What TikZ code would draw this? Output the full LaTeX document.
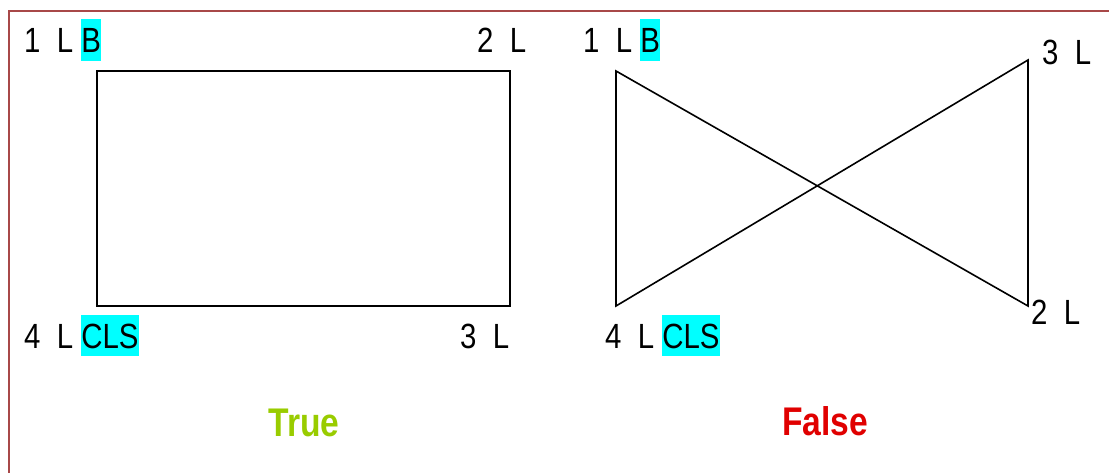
\documentclass[tikz,border=0pt]{standalone}
\usepackage{fontspec}
\setmainfont[FakeStretch=0.84]{Liberation Sans}
\definecolor{hl}{RGB}{0,255,255}
\definecolor{frame}{RGB}{168,72,72}
\definecolor{truegreen}{RGB}{153,204,0}
\definecolor{falsered}{RGB}{224,0,0}
% highlighted word with a tall cyan background
\newcommand\hlword[1]{{\setlength{\fboxsep}{0pt}\colorbox{hl}{\rule[-8.5pt]{0pt}{42pt}#1}}}
\tikzset{
  corner/.style={font=\fontsize{35}{40}\selectfont, anchor=base west, inner sep=0pt},
  verdict/.style={font=\fontsize{40}{44}\selectfont\bfseries, anchor=base, inner sep=0pt},
  shape line/.style={draw=black, line width=1.6pt, line join=miter},
}
\begin{document}
\begin{tikzpicture}[x=1pt,y=-1pt]
\useasboundingbox (0,0) rectangle (1109,473);
% outer frame (top and left edges)
\draw[frame, line width=2pt] (9,480) -- (9,11) -- (1115,11);

% left figure: rectangle
\coordinate (a1) at (97,71);
\coordinate (a2) at (510,71);
\coordinate (a3) at (510,306);
\coordinate (a4) at (97,306);
\draw[shape line] (a1) -- (a2) -- (a3) -- (a4) -- cycle;

\node[corner] (la1) at (24,53) {1~~L \hlword{B}};
\node[corner] (la2) at (477,53) {2~~L};
\node[corner] (la3) at (460,348) {3~~L};
\node[corner] (la4) at (24,348) {4~~L \hlword{CLS}};

% right figure: crossed quadrilateral
\coordinate (b1) at (616,71);
\coordinate (b2) at (1028,306);
\coordinate (b3) at (1028,60);
\coordinate (b4) at (616,306);
\draw[shape line] (b1) -- (b2) -- (b3) -- (b4) -- cycle;

\node[corner] (lb1) at (583,53) {1~~L \hlword{B}};
\node[corner] (lb2) at (1031,324) {2~~L};
\node[corner] (lb3) at (1042,65) {3~~L};
\node[corner] (lb4) at (605,348) {4~~L \hlword{CLS}};

% verdicts
\node[verdict, text=truegreen] (vt) at (304,436) {True};
\node[verdict, text=falsered] (vf) at (825,435) {False};
\end{tikzpicture}
\end{document}
